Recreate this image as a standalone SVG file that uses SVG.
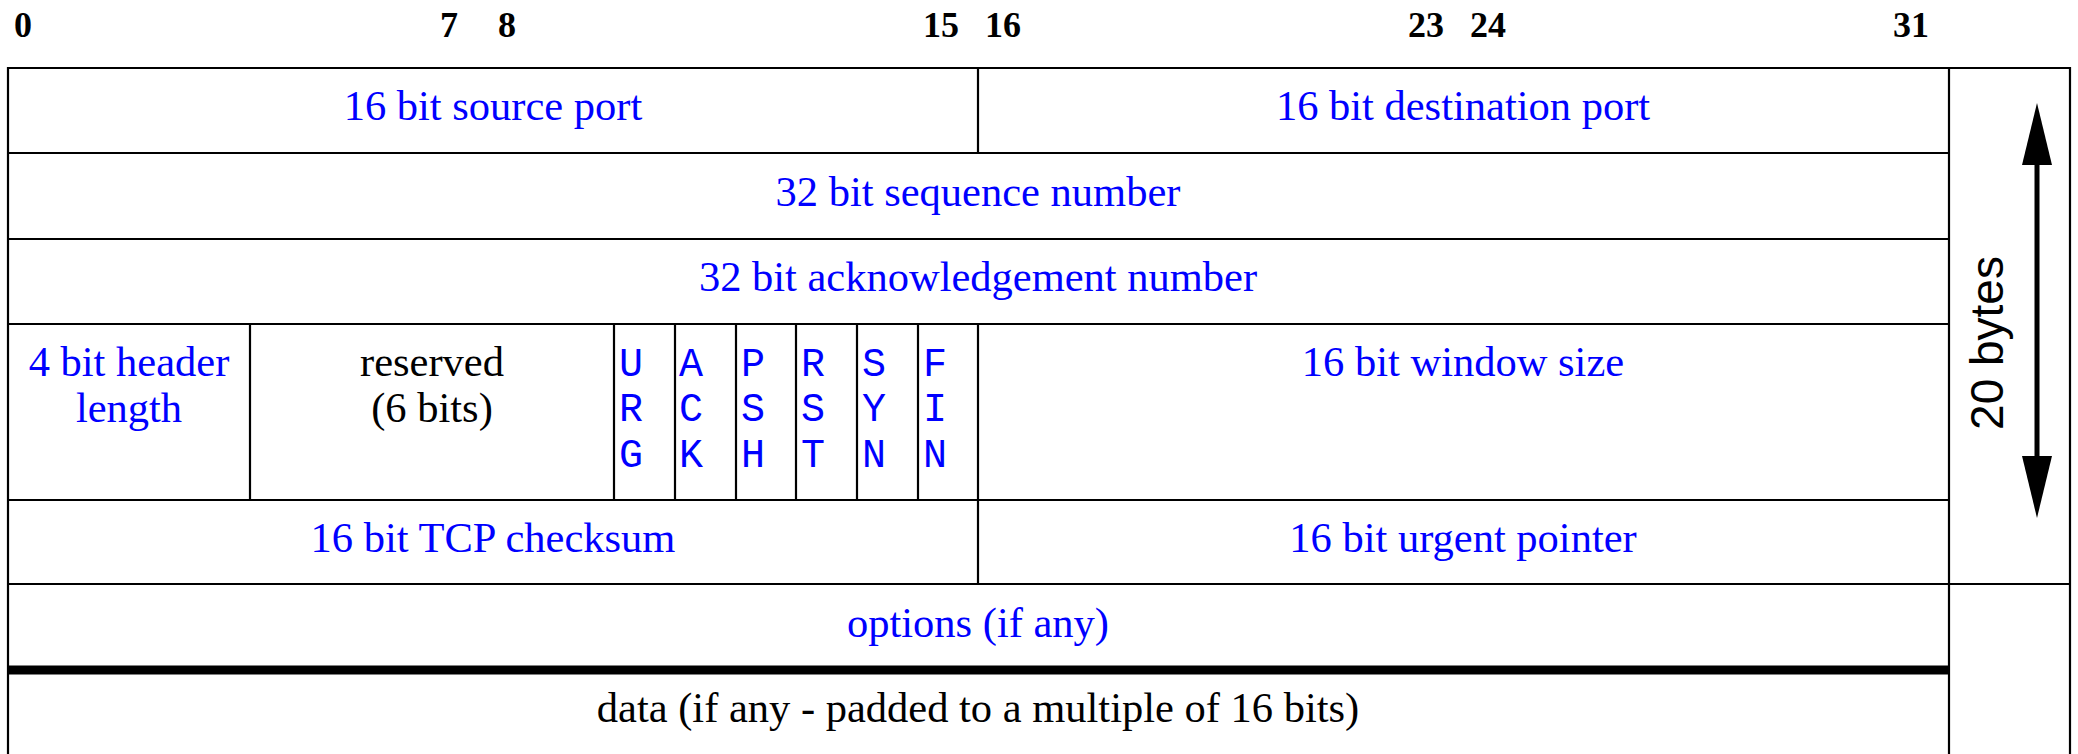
<svg xmlns="http://www.w3.org/2000/svg" width="2078" height="754" viewBox="0 0 2078 754">
<style>
  .ln { stroke: #000; stroke-width: 2.2; fill: none; }
  .thick { stroke: #000; stroke-width: 9; fill: none; }
  .num { font-family: "Liberation Serif", "Times New Roman", serif; font-weight: bold; font-size: 36px; fill: #000; }
  .lbl { font-family: "Liberation Serif", "Times New Roman", serif; font-size: 42.5px; fill: #0000ff; text-anchor: middle; }
  .blk { fill: #000; }
  .flag { font-family: "Liberation Mono", "Courier New", monospace; font-size: 40px; fill: #0000ff; }
  .side { font-family: "Liberation Sans Narrow", "Liberation Sans", Arial, sans-serif; font-size: 46px; fill: #000; text-anchor: middle; }
</style>
<defs>
  <marker id="ah" viewBox="0 -15 62 30" markerUnits="userSpaceOnUse" markerWidth="62" markerHeight="30" refX="0" refY="0" orient="auto-start-reverse">
    <path d="M0,-15 L62,0 L0,15 Z" fill="#000"/>
  </marker>
</defs>
<rect width="2078" height="754" fill="#fff"/>

<g id="bit-numbers">
  <text class="num" x="14" y="37">0</text>
  <text class="num" x="440" y="37">7</text>
  <text class="num" x="498" y="37">8</text>
  <text class="num" x="923" y="37">15</text>
  <text class="num" x="985" y="37">16</text>
  <text class="num" x="1408" y="37">23</text>
  <text class="num" x="1470" y="37">24</text>
  <text class="num" x="1893" y="37">31</text>
</g>

<g id="grid">
  <path class="ln" d="M8,68 H2070 M8,153 H1949 M8,239 H1949 M8,324 H1949 M8,500 H1949 M8,584 H2070"/>
  <path class="ln" d="M8,67 V754 M1949,67 V754 M2070,67 V754"/>
  <path class="ln" d="M978,68 V153 M978,324 V584 M250,324 V500 M614,324 V500 M675,324 V500 M736,324 V500 M796,324 V500 M857,324 V500 M918,324 V500"/>
  <path class="thick" d="M8,670 H1949"/>
</g>

<g id="source-port"><text class="lbl" x="493" y="120">16 bit source port</text></g>
<g id="destination-port"><text class="lbl" x="1463" y="120">16 bit destination port</text></g>
<g id="sequence-number"><text class="lbl" x="978" y="206">32 bit sequence number</text></g>
<g id="ack-number"><text class="lbl" x="978" y="291">32 bit acknowledgement number</text></g>
<g id="header-length"><text class="lbl" x="129" y="376">4 bit header</text><text class="lbl" x="129" y="422">length</text></g>
<g id="reserved"><text class="lbl blk" x="432" y="376">reserved</text><text class="lbl blk" x="432" y="422">(6 bits)</text></g>
<g id="flag-urg"><text class="flag" x="619" y="376">U</text><text class="flag" x="619" y="421">R</text><text class="flag" x="619" y="467">G</text></g>
<g id="flag-ack"><text class="flag" x="679" y="376">A</text><text class="flag" x="679" y="421">C</text><text class="flag" x="679" y="467">K</text></g>
<g id="flag-psh"><text class="flag" x="741" y="376">P</text><text class="flag" x="741" y="421">S</text><text class="flag" x="741" y="467">H</text></g>
<g id="flag-rst"><text class="flag" x="801" y="376">R</text><text class="flag" x="801" y="421">S</text><text class="flag" x="801" y="467">T</text></g>
<g id="flag-syn"><text class="flag" x="862" y="376">S</text><text class="flag" x="862" y="421">Y</text><text class="flag" x="862" y="467">N</text></g>
<g id="flag-fin"><text class="flag" x="923" y="376">F</text><text class="flag" x="923" y="421">I</text><text class="flag" x="923" y="467">N</text></g>
<g id="window-size"><text class="lbl" x="1463" y="376">16 bit window size</text></g>
<g id="checksum"><text class="lbl" x="493" y="552">16 bit TCP checksum</text></g>
<g id="urgent-pointer"><text class="lbl" x="1463" y="552">16 bit urgent pointer</text></g>
<g id="options"><text class="lbl" x="978" y="637">options (if any)</text></g>
<g id="data"><text class="lbl blk" x="978" y="722">data (if any - padded to a multiple of 16 bits)</text></g>

<g id="connectors">
  <line x1="2037" y1="165" x2="2037" y2="456" stroke="#000" stroke-width="5" marker-start="url(#ah)" marker-end="url(#ah)"/>
</g>
<g id="size-label"><text class="side" x="2003" y="343" transform="rotate(-90 2003 343)">20 bytes</text></g>
</svg>
